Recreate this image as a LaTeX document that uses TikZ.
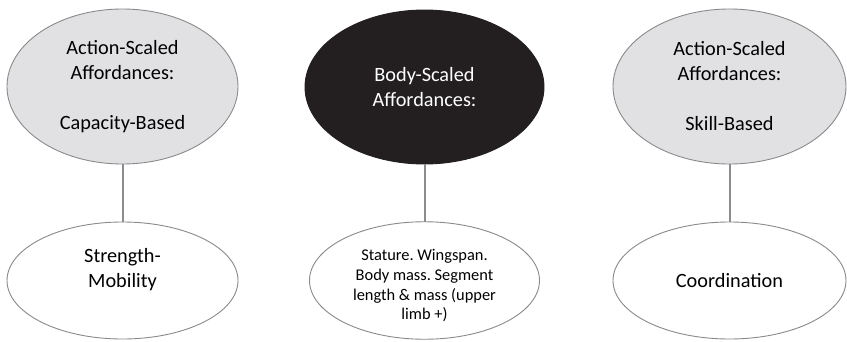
\documentclass[tikz,border=0pt]{standalone}
\usepackage{fontspec}
\setmainfont{Carlito}
\frenchspacing
\usetikzlibrary{shapes.geometric}
\definecolor{topgray}{RGB}{225,225,227}
\definecolor{edgegray}{RGB}{138,138,140}
\definecolor{linkgray}{RGB}{140,140,143}
\definecolor{darkfill}{RGB}{35,31,32}
\tikzset{
  oval/.style={ellipse, draw=edgegray, line width=0.9pt, inner sep=0pt, outer sep=0pt, align=center},
  actionoval/.style={oval, fill=topgray, font=\fontsize{20.3}{25}\selectfont},
  bodyoval/.style={oval, fill=darkfill, draw=darkfill, text=white, font=\fontsize{20.3}{25}\selectfont},
  baseoval/.style={oval, fill=white, font=\fontsize{20.3}{25}\selectfont},
  smalloval/.style={oval, fill=white, font=\fontsize{16.4}{19.7}\selectfont},
  link/.style={draw=linkgray, line width=2pt}
}
\begin{document}
\begin{tikzpicture}[x=1pt,y=-1pt]
\useasboundingbox (0,0) rectangle (847,341);
\fill[white] (0,0) rectangle (847,341);
\node[actionoval, minimum width=231pt, minimum height=155pt] (a1) at (122.5,86.5) {Action-Scaled\\Affordances:\\\mbox{}\\Capacity-Based};
\node[bodyoval, minimum width=239pt, minimum height=154pt] (a2) at (424.5,87) {Body-Scaled\\Affordances:};
\node[actionoval, minimum width=233pt, minimum height=155pt] (a3) at (729.5,86.5) {Action-Scaled\\Affordances:\\\mbox{}\\Skill-Based};
\node[baseoval, minimum width=231pt, minimum height=117pt] (b1) at (122.5,280.5) {Strength-\\Mobility\\\mbox{}};
\node[smalloval, minimum width=230pt, minimum height=117pt] (b2) at (424.5,280.5) {\rule{0pt}{6pt}\\[-4pt]Stature. Wingspan.\\Body mass. Segment\\length \& mass (upper\\limb +)};
\node[baseoval, minimum width=233pt, minimum height=117pt] (b3) at (729.5,280.5) {Coordination};
\draw[link] (a1.south) -- (b1.north);
\draw[link] (a2.south) -- (b2.north);
\draw[link] (a3.south) -- (b3.north);
\end{tikzpicture}
\end{document}
